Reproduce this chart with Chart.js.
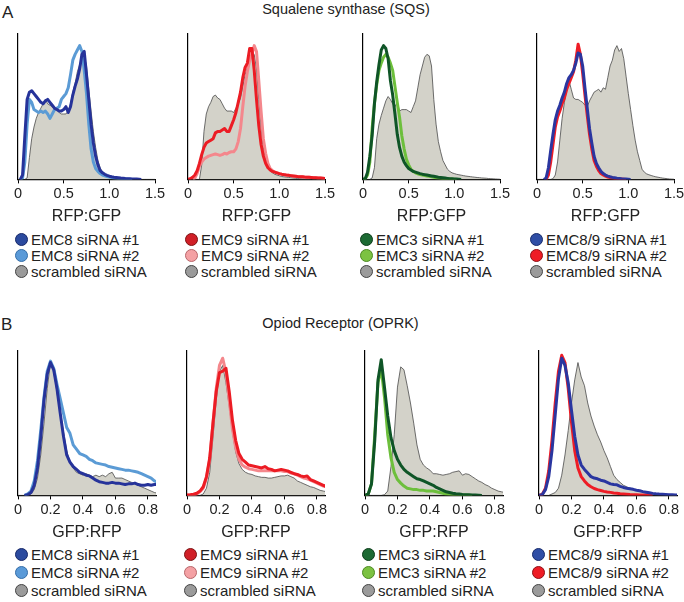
<!DOCTYPE html>
<html>
<head>
<meta charset="utf-8">
<script src="https://cdn.jsdelivr.net/npm/chart.js@4.4.1/dist/chart.umd.min.js"></script>
<style>
  body { margin: 0; background: #fff; }
  #fig { position: relative; width: 684px; height: 602px; overflow: hidden; font-family: "Liberation Sans", Arial, sans-serif; color: #222; }
  .txt { position: absolute; white-space: nowrap; line-height: 1; }
  canvas { position: absolute; }
  .legend { position: absolute; font-size: 15px; }
  .row { display: flex; align-items: center; white-space: nowrap; }
  .dot { display: inline-block; width: 11px; height: 11px; border-radius: 50%; border: 1px solid; margin-right: 3px; }
</style>
</head>
<body>
<div id="fig">
  <div class="txt" style="left:2px;top:4px;font-size:17px">A</div>
  <div class="txt" style="left:0;width:692px;text-align:center;top:2px;font-size:14.5px">Squalene synthase (SQS)</div>
  <div class="txt" style="left:1px;top:316px;font-size:17px">B</div>
  <div class="txt" style="left:0;width:681px;text-align:center;top:316px;font-size:14.5px">Opiod Receptor (OPRK)</div>
</div>
<script>
// bins (x) and histogram heights, % of the y axis
const sqsX = [0,0.025,0.05,0.075,0.1,0.125,0.15,0.175,0.2,0.225,0.25,0.275,0.3,0.325,0.35,0.375,0.4,0.425,0.45,0.475,0.5,0.525,0.55,0.575,0.6,0.625,0.65,0.675,0.7,0.725,0.75,0.775,0.8,0.825,0.85,0.875,0.9,0.925,0.95,0.975,1,1.025,1.05,1.075,1.1,1.125,1.15,1.175,1.2,1.225,1.25,1.275,1.3,1.325,1.35,1.375,1.4,1.425,1.45,1.475,1.5];
const oprkX = [0,0.02,0.04,0.06,0.08,0.1,0.12,0.14,0.16,0.18,0.2,0.22,0.24,0.26,0.28,0.3,0.32,0.34,0.36,0.38,0.4,0.42,0.44,0.46,0.48,0.5,0.52,0.54,0.56,0.58,0.6,0.62,0.64,0.66,0.68,0.7,0.72,0.74,0.76,0.78,0.8,0.82,0.84,0.86];

const sqsTicks = ['0', '0.5', '1.0', '1.5'];
const oprkTicks = ['0', '0.2', '0.4', '0.6', '0.8'];

// A: Squalene synthase
const sqs8_1 = [null,0,3,30,55,60,61,59,57,55, 53,52,54,55,53,51,49,48,47,47, 48,50,46,50,58,64,69,76,86,88, 72,55,38,25,16,10,6,4.5,3.5,2.8, 2.2,1.8,1.5,1.3,1.1,0.9,0.8,0.6,0.5,0.4, 0.3,0.2,0.2,0.1,0,null,null,null,null,null, null];
const sqs8_2 = [null,0,1,12,38,55,53,48,47,46, 47,46,47,45,42,45,48,49,50,55, 57,59,63,72,82,86,89,92,88,75, 59,38,21,12,7.5,5.5,4,3,2.5,2, 1.6,1.3,1,0.8,0.6,0.5,0.4,0.3,0.2,0.1, 0,null,null,null,null,null,null,null,null,null, null];
const sqs8_s = [0,0,0,0,1,15,28,36,42,46, 49,52,55,52,51,50,48,48,46,45, 45,45,47,52,60,66,74,79,83,85, 78,62,47,33,22,13,8,5,3.5,2.5, 2,1.5,1.2,1,0.8,0.6,0.5,0.4,0.3,0.3, 0.2,0.1,0.1,0,0,0,0,0,0,0, 0];

const sqs9_1 = [0,0.5,1.5,3,6,11,17,22,25,26, 27,28,32,33,33,34,35,33,33,37, 41,46,53,60,70,77,80,90,90,75, 55,37,24,16,11,8,6.5,5.5,5,4.5, 4,3.6,3.3,3,2.8,2.6,2.4,2.2,2,1.9, 1.8,1.6,1.5,1.4,1.3,1.2,1.1,1,0.9,0.8, 0.7];
const sqs9_2 = [null,null,0,1,4,9,12,14,15,16, 16.5,17,17.5,17,16.5,17,18,17.5,18.5,19, 19,21,26,35,50,64,74,82,86,92, 88,68,47,28,18,11,7.5,6,5,4.5, 4,3.6,3.3,3,2.8,2.6,2.4,2.2,2,1.9, 1.8,1.6,1.5,1.4,1.3,1.2,1.1,1,0.9,0.8, 0.7];
const sqs9_s = [0,0,0,0,0,0,10,33,45,50, 53,57,58,56,55,52,49,47,47,47, 46,49,52,56,64,72,77,82,85,86, 76,55,36,22,14,9,6,4.5,3.5,3, 2.5,2,1.8,1.6,1.4,1.2,1,0.8,0.6,0.5, 0.4,0.3,0.2,0.2,0.1,0,0,0,0,0, 0];

const sqs3_1 = [0,0.5,5,16,30,52,67,79,89,92, 90,83,68,58,45,31,22,16,12,9.5, 7.5,6.5,5.5,5,4.5,4,3.6,3.3,3,2.7, 2.4,2.1,1.8,1.5,1.3,1.1,0.9,0.7,0.5,0.4, 0.3,0.2,0.1,0,null,null,null,null,null,null, null,null,null,null,null,null,null,null,null,null, null];
const sqs3_2 = [0,0.5,3,12,35,52,65,75,80,84, 86,84,80,75,64,53,43,30,21,14, 10,7,5.5,4.5,3.8,3.3,3,2.7,2.4,2.1, 1.8,1.5,1.2,1,0.8,0.6,0.5,0.4,0.3,0.2, 0.1,0,null,null,null,null,null,null,null,null, null,null,null,null,null,null,null,null,null,null, null];
const sqs3_s = [0,0,0,0,1,8,28,38,44,49, 54,57,55,52,50,53,47,48,48,48, 47,46,50,54,63,72,78,84,86,85, 78,55,38,26,19,13,10,7,5.5,4.5, 4,3.5,3.2,2.9,2.6,2.3,2.1,1.9,1.7,1.5, 1.3,1.2,1,0.9,0.8,0.6,0.5,0.4,0.3,0.2, 0.1];

const sqs89_1 = [null,null,null,0,1,8,20,31,41,47, 51,56,60,66,70,72,75,80,87,86, 78,63,49,35,25,16,11,8,5.5,4, 3,2.3,1.8,1.4,1.1,0.8,0.6,0.4,0.3,0.2, 0.1,0,null,null,null,null,null,null,null,null, null,null,null,null,null,null,null,null,null,null, null];
const sqs89_2 = [null,null,null,null,0,3,12,24,36,43, 47,52,56,62,66,70,74,82,93,86, 73,58,44,31,21,13,9,6,4,3, 2.2,1.6,1.2,0.9,0.6,0.4,0.3,0.2,0.1,0, null,null,null,null,null,null,null,null,null,null, null,null,null,null,null,null,null,null,null,null, null];
const sqs89_s = [0,0,0,0,0,0,0,0.5,3,12, 27,42,53,62,68,62,56,55,55,54, 53,51,50,54,57,60,61,62,60,63, 62,70,78,82,89,92,88,90,83,71, 59,48,37,27,19,13,7,5,3.8,3.2, 2.7,2.2,1.8,1.5,1.2,0.9,0.7,0.5,0.3,0.2, 0.1];

// B: Opiod receptor
const oprk8_1 = [null,null,0,0.5,2,7,19,40,66,84, 92,87,74,57,41,28,23,20,18,16, 15,14,13.5,12,10.5,9.5,9,8.5,8.5,9, 8.5,8.5,8,7.5,8,8,8.5,7.5,7,7, 7.5,7,7.5,7.5];
const oprk8_2 = [null,null,0,1,3,10,24,45,68,86, 93,88,77,67,57,47,43,35,32,29, 28,27,25,24,22.5,22,21.5,21,20,19.5, 19,18.5,18,17.5,17.5,17,16.5,16,15,14, 13,12,10,9];
const oprk8_s = [0,0,0,0,1,4,12,28,50,74, 92,88,71,58,44,31,23,19,16,15, 14,15,14,13,14,13,14,13,15,16, 12,12,12,11,10,9,8,7,6,5, 4,3,2,1.5];

const oprk9_1 = [0.3,0.5,0.8,1.5,3,6,13,26,50,72, 85,86,88,72,52,38,29,25,23,21, 20.5,20,19.5,19,20,18.5,18,17,17.5,18, 17.5,17,16,15,14.5,13.5,13,13.5,11,10, 9,8,7,6];
const oprk9_2 = [0.3,0.3,0.3,1,2.5,5,12,25,50,74, 90,95,85,66,46,33,25,21,19.5,18.5, 18,17.5,17,17,17,17,17,17,17,17, 16.5,16.5,15.5,15,14,13,12,11.5,10.5,9.5, 8.5,7.5,6.5,6];
const oprk9_s = [0,0,0,0,0,1,5,16,40,66, 86,90,78,62,44,30,22,18,16,15, 14.5,13.5,13,12.5,12.5,12,12,12.5,13,13.5, 13.5,14,13,12,10,9,8,7,6,5.5, 4.5,3.5,3,2.5];

const oprk3_1 = [0,1,8,38,80,94,75,55,40,31, 25,21,18,16,14.5,13,11.5,11,10,9, 8,7,5.5,4.5,3.5,2.5,2,1.5,1.2,1, 0.7,0.5,0.4,0.3,0.2,0.1,0,null,null,null, null,null,null,null];
const oprk3_2 = [0,1,8,42,78,88,68,42,26,16, 11,8.5,6.5,5,4.5,4,4,3.5,3.5,3, 3,3,2.5,2,1.5,1,0.8,0.6,0.5,0.4, 0.3,0.2,0.1,0,null,null,null,null,null,null, null,null,null,null];
const oprk3_s = [0,0,0,0,0,0,0.5,3,20,42, 75,89,87,76,64,50,35,25,21,19, 17.5,15,15,14.5,14,14.5,15,16,16.5,17, 14,15,14.5,13,11.5,10,9,7.5,6.5,5, 4,3,2.5,2];

const oprk89_1 = [0,0.5,4,13,31,56,81,95,90,78, 59,41,28,21,18,15.5,13,12,11.5,10.5, 10,9,8,7.5,7.3,6.3,5.5,5,4.6,4.2, 3.6,3.2,2.6,2.2,1.8,1.4,1.1,0.9,0.8,0.7, 0.5,0.4,0.3,0.2];
const oprk89_2 = [0,0.7,5,17,38,64,86,97,92,74, 51,31,19,13,10,7.5,6,4.8,4,3.4, 2.8,2.4,2.1,1.7,1.5,1.2,1,0.8,0.6,0.5, 0.4,0.3,0.2,0.2,0.1,0,null,null,null,null, null,null,null,null];
const oprk89_s = [0,0,0,0,1,2,5,14,28,45, 64,80,92,82,76,64,55,48,42,37, 31,26,20,14,11,9,7,6,5,4.5, 3.5,3,2.5,2,1.7,1.4,1.1,0.9,0.7,0.5, 0.4,0.3,0.2,0.1];

const labels8 = ['EMC8 siRNA #1', 'EMC8 siRNA #2', 'scrambled siRNA'];
const labels9 = ['EMC9 siRNA #1', 'EMC9 siRNA #2', 'scrambled siRNA'];
const labels3 = ['EMC3 siRNA #1', 'EMC3 siRNA #2', 'scrambled siRNA'];
const labels89 = ['EMC8/9 siRNA #1', 'EMC8/9 siRNA #2', 'scrambled siRNA'];

// styles
const FONT = '"Liberation Sans", Arial, sans-serif';
const FILL = '#d3d2c9';
const lines8 = ['#26339a', '#5b9bd5'];
const lines9 = ['#ec1c24', '#f4878c'];
const lines3 = ['#0f5527', '#6dbf3c'];
const lines89 = ['#2a36a0', '#ee1c25'];
const dots8 = [['#2b4a9e', '#17296a'], ['#5a9ad8', '#356ea8'], ['#9b9b9b', '#444']];
const dots9 = [['#d01f27', '#7e1414'], ['#f4a1a4', '#b8666a'], ['#9b9b9b', '#444']];
const dots3 = [['#1c6a33', '#0c3c1a'], ['#7cc242', '#4d8a22'], ['#9b9b9b', '#444']];
const dots89 = [['#2f4ea5', '#172b6c'], ['#ee1c25', '#8e1015'], ['#9b9b9b', '#444']];

const panels = [
  { id: 'a1', axisX: 10,  top: 30,  xs: sqsX, s: [sqs8_1, sqs8_2, sqs8_s], labels: labels8, lines: lines8, dots: dots8, legX: 15,  legY: 232, rowH: 15.7 },
  { id: 'a2', axisX: 180, top: 30,  xs: sqsX, s: [sqs9_1, sqs9_2, sqs9_s], labels: labels9, lines: lines9, dots: dots9, legX: 185, legY: 232, rowH: 15.7 },
  { id: 'a3', axisX: 355, top: 30,  xs: sqsX, s: [sqs3_1, sqs3_2, sqs3_s], labels: labels3, lines: lines3, dots: dots3, legX: 360, legY: 232, rowH: 15.7 },
  { id: 'a4', axisX: 529, top: 30,  xs: sqsX, s: [sqs89_1, sqs89_2, sqs89_s], labels: labels89, lines: lines89, dots: dots89, legX: 530, legY: 232, rowH: 15.7 },
  { id: 'b1', axisX: 10,  top: 347, xs: oprkX, s: [oprk8_1, oprk8_2, oprk8_s], labels: labels8, lines: lines8, dots: dots8, legX: 15,  legY: 545, rowH: 18 },
  { id: 'b2', axisX: 179, top: 347, xs: oprkX, s: [oprk9_1, oprk9_2, oprk9_s], labels: labels9, lines: lines9, dots: dots9, legX: 184, legY: 545, rowH: 18 },
  { id: 'b3', axisX: 357, top: 347, xs: oprkX, s: [oprk3_1, oprk3_2, oprk3_s], labels: labels3, lines: lines3, dots: dots3, legX: 362, legY: 545, rowH: 18 },
  { id: 'b4', axisX: 531, top: 347, xs: oprkX, s: [oprk89_1, oprk89_2, oprk89_s], labels: labels89, lines: lines89, dots: dots89, legX: 532, legY: 545, rowH: 18 }
];

const fig = document.getElementById('fig');

function pts(xs, ys) {
  return xs.map((x, i) => ({ x: x, y: ys[i] }));
}

panels.forEach(p => {
  const isA = p.xs === sqsX;
  const padL = 8, padR = 14;
  const plotW = isA ? 145 : 146;
  const cv = document.createElement('canvas');
  cv.width = padL + plotW + padR;
  cv.height = isA ? 198 : 197;
  cv.style.left = (p.axisX - padL) + 'px';
  cv.style.top = p.top + 'px';
  fig.appendChild(cv);

  const tickLabels = isA ? sqsTicks : oprkTicks;

  new Chart(cv.getContext('2d'), {
    type: 'line',
    data: {
      datasets: [
        { label: p.labels[0], data: pts(p.xs, p.s[0]), borderColor: p.lines[0], borderWidth: 3, fill: false },
        { label: p.labels[1], data: pts(p.xs, p.s[1]), borderColor: p.lines[1], borderWidth: 3, fill: false },
        { label: p.labels[2], data: pts(p.xs, p.s[2]), borderColor: '#4a4a4a', borderWidth: 0.8, backgroundColor: FILL, fill: 'origin' }
      ]
    },
    options: {
      responsive: false,
      animation: false,
      devicePixelRatio: 1,
      layout: { padding: { left: padL, right: padR, top: 4, bottom: 2 } },
      plugins: { legend: { display: false }, tooltip: { enabled: false } },
      elements: { point: { radius: 0 }, line: { tension: 0, borderJoinStyle: 'round' } },
      scales: {
        x: {
          type: 'linear', min: 0, max: isA ? 1.5 : 0.85,
          ticks: {
            stepSize: isA ? 0.5 : 0.2, includeBounds: false, autoSkip: false, maxRotation: 0,
            padding: 2, color: '#222', font: { family: FONT, size: 14.5 },
            callback: (v, i) => tickLabels[i]
          },
          grid: { display: true, drawOnChartArea: false, drawTicks: true, tickLength: 4, color: '#000' },
          border: { display: true, color: '#000', width: 1.2 },
          title: { display: true, text: isA ? 'RFP:GFP' : 'GFP:RFP', color: '#222', font: { family: FONT, size: 16 }, padding: { top: 2, bottom: 0 } }
        },
        y: {
          min: 0, max: 100,
          ticks: { display: false },
          grid: { display: false },
          border: { display: true, color: '#000', width: 1.2 }
        }
      }
    }
  });

  const leg = document.createElement('div');
  leg.className = 'legend';
  leg.style.left = p.legX + 'px';
  leg.style.top = p.legY + 'px';
  p.labels.forEach((t, i) => {
    const row = document.createElement('div');
    row.className = 'row';
    row.style.height = p.rowH + 'px';
    const dot = document.createElement('span');
    dot.className = 'dot';
    dot.style.background = p.dots[i][0];
    dot.style.borderColor = p.dots[i][1];
    row.appendChild(dot);
    row.appendChild(document.createTextNode(t));
    leg.appendChild(row);
  });
  fig.appendChild(leg);
});
</script>
</body>
</html>
